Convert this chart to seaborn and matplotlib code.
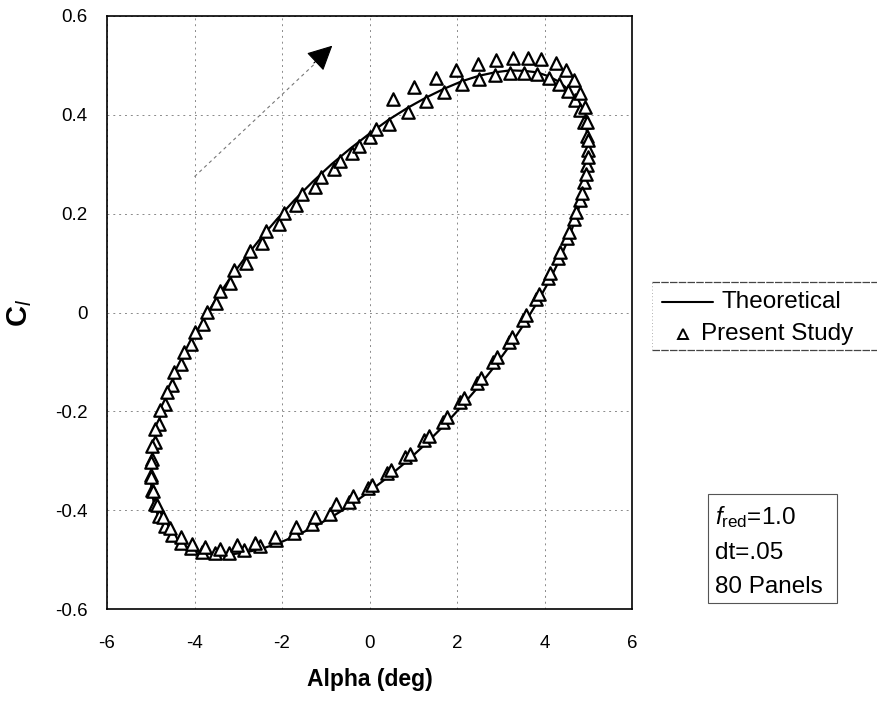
import matplotlib
matplotlib.use("Agg")
import matplotlib.pyplot as plt
from matplotlib.lines import Line2D
from matplotlib.patches import Rectangle
import pandas as pd
import seaborn as sns

# Theodorsen lift loop, alpha = 5 deg pitch amplitude, one full cycle
theory_alpha = [0, 0.436, 0.868, 1.294, 1.710, 2.113, 2.5, 2.868, 3.214, 3.536, 3.830, 4.096,
                4.330, 4.532, 4.698, 4.830, 4.924, 4.981, 5.0,
                4.981, 4.924, 4.830, 4.698, 4.532, 4.330, 4.096, 3.830, 3.536, 3.214, 2.868,
                2.5, 2.113, 1.710, 1.294, 0.868, 0.436, 0,
                -0.436, -0.868, -1.294, -1.710, -2.113, -2.5, -2.868, -3.214, -3.536, -3.830,
                -4.096, -4.330, -4.532, -4.698, -4.830, -4.924, -4.981, -5.0,
                -4.981, -4.924, -4.830, -4.698, -4.532, -4.330, -4.096, -3.830, -3.536, -3.214,
                -2.868, -2.5, -2.113, -1.710, -1.294, -0.868, -0.436, 0]
theory_cl = [0.362, 0.390, 0.414, 0.435, 0.453, 0.468, 0.479, 0.486, 0.490, 0.489, 0.486, 0.478,
             0.467, 0.452, 0.434, 0.412, 0.388, 0.360, 0.330,
             0.297, 0.262, 0.225, 0.186, 0.146, 0.104, 0.062, 0.020, -0.023, -0.066, -0.108,
             -0.149, -0.189, -0.228, -0.265, -0.300, -0.332, -0.362,
             -0.390, -0.414, -0.435, -0.453, -0.468, -0.479, -0.486, -0.490, -0.489, -0.486,
             -0.478, -0.467, -0.452, -0.434, -0.412, -0.388, -0.360, -0.330,
             -0.297, -0.262, -0.225, -0.186, -0.146, -0.104, -0.062, -0.020, 0.023, 0.066,
             0.108, 0.149, 0.189, 0.228, 0.265, 0.300, 0.332, 0.362]

# Panel-method results, converged cycle
study_alpha_a = [0.00, 0.44, 0.87, 1.29, 1.71, 2.11, 2.50, 2.87, 3.21, 3.54, 3.83, 4.10,
                 4.33, 4.53, 4.69, 4.82, 4.91, 4.97, 4.99, 4.97, 4.91, 4.82, 4.68, 4.51,
                 4.31, 4.07, 3.80, 3.50, 3.18, 2.83, 2.46, 2.07, 1.67, 1.25, 0.82, 0.39,
                 -0.04, -0.47, -0.90, -1.32, -1.73, -2.13, -2.51, -2.88, -3.22, -3.54, -3.83, -4.09,
                 -4.32, -4.52, -4.68, -4.81, -4.91, -4.97, -4.99, -4.97, -4.91, -4.82, -4.68, -4.51,
                 -4.31, -4.07, -3.80, -3.50, -3.18, -2.83, -2.46, -2.07, -1.67, -1.25, -0.82, -0.39]
study_cl_a = [0.355, 0.382, 0.405, 0.427, 0.446, 0.462, 0.473, 0.481, 0.485, 0.485, 0.482, 0.474,
              0.463, 0.449, 0.431, 0.409, 0.385, 0.358, 0.329, 0.298, 0.264, 0.228, 0.190, 0.151,
              0.110, 0.069, 0.027, -0.016, -0.059, -0.101, -0.142, -0.182, -0.221, -0.258, -0.293, -0.325,
              -0.355, -0.383, -0.407, -0.428, -0.446, -0.461, -0.473, -0.481, -0.486, -0.487, -0.484, -0.477,
              -0.466, -0.451, -0.433, -0.411, -0.387, -0.359, -0.329, -0.297, -0.262, -0.225, -0.186, -0.146,
              -0.105, -0.064, -0.023, 0.019, 0.060, 0.101, 0.141, 0.180, 0.218, 0.254, 0.290, 0.323]

# Panel-method results, starting cycle
study_alpha_b = [0.53, 1.01, 1.51, 1.97, 2.47, 2.88, 3.27, 3.62, 3.92, 4.26, 4.50, 4.68,
                 4.82, 4.92, 4.98, 5.00, 4.99, 4.94, 4.85, 4.72, 4.56, 4.36, 4.13, 3.87,
                 3.58, 3.26, 2.92, 2.55, 2.17, 1.77, 1.35, 0.92, 0.49, 0.05, -0.38, -0.76,
                 -1.24, -1.69, -2.15, -2.61, -3.02, -3.41, -3.76, -4.05, -4.32, -4.55, -4.72, -4.85,
                 -4.94, -4.99, -5.00, -4.97, -4.90, -4.79, -4.64, -4.46, -4.25, -4.00, -3.72, -3.42,
                 -3.09, -2.74, -2.36, -1.96, -1.54, -1.11, -0.67, -0.23, 0.15]
study_cl_b = [0.432, 0.457, 0.474, 0.490, 0.503, 0.511, 0.515, 0.515, 0.512, 0.505, 0.490, 0.470,
              0.445, 0.415, 0.385, 0.350, 0.315, 0.280, 0.242, 0.203, 0.163, 0.122, 0.080, 0.037,
              -0.006, -0.049, -0.091, -0.133, -0.173, -0.212, -0.250, -0.286, -0.319, -0.350, -0.372, -0.388,
              -0.414, -0.435, -0.455, -0.467, -0.471, -0.479, -0.475, -0.469, -0.455, -0.437, -0.414, -0.390,
              -0.362, -0.333, -0.302, -0.270, -0.235, -0.198, -0.160, -0.120, -0.080, -0.040, 0.002, 0.044,
              0.085, 0.125, 0.164, 0.202, 0.239, 0.274, 0.306, 0.336, 0.372]

x_ticks = [-6, -4, -2, 0, 2, 4, 6]
x_tick_labels = ["-6", "-4", "-2", "0", "2", "4", "6"]
y_ticks = [-0.6, -0.4, -0.2, 0, 0.2, 0.4, 0.6]
y_tick_labels = ["-0.6", "-0.4", "-0.2", "0", "0.2", "0.4", "0.6"]

sns.set_theme(style="white")
plt.rcParams["font.family"] = ["Liberation Sans", "DejaVu Sans"]
plt.rcParams["mathtext.fontset"] = "custom"
plt.rcParams["mathtext.rm"] = "Liberation Sans"
plt.rcParams["mathtext.it"] = "Liberation Sans:italic"
plt.rcParams["mathtext.bf"] = "Liberation Sans:bold"
plt.rcParams["axes.unicode_minus"] = False
plt.rcParams["text.color"] = "black"
plt.rcParams["axes.labelcolor"] = "black"

theory = pd.DataFrame({"alpha": theory_alpha, "cl": theory_cl})
study = pd.DataFrame({"alpha": study_alpha_a + study_alpha_b,
                      "cl": study_cl_a + study_cl_b})

fig = plt.figure(figsize=(8.77, 7.01), dpi=100)
ax = fig.add_axes([107 / 877, 1 - 609 / 701, 525 / 877, 593 / 701])

sns.lineplot(data=theory, x="alpha", y="cl", sort=False, estimator=None,
             color="black", linewidth=1.6, ax=ax, zorder=3)
sns.scatterplot(data=study, x="alpha", y="cl", marker="^", s=80,
                color="white", edgecolor="black", linewidth=1.6, ax=ax, zorder=4)

ax.set_xlim(-6, 6)
ax.set_ylim(-0.6, 0.6)
ax.set_xticks(x_ticks)
ax.set_xticklabels(x_tick_labels)
ax.set_yticks(y_ticks)
ax.set_yticklabels(y_tick_labels)
ax.tick_params(axis="both", length=0, labelsize=13.5, colors="black")
ax.tick_params(axis="x", pad=19)
ax.tick_params(axis="y", pad=14)
ax.grid(True, color="#8a8a8a", linestyle=(0, (2, 4)), linewidth=0.7)
for sp in ax.spines.values():
    sp.set_color("black")
    sp.set_linewidth(1.2)

ax.set_xlabel("Alpha (deg)", fontsize=16.5, fontweight="bold", labelpad=11)
ax.set_ylabel(r"$\mathbf{C}_{\mathit{l}}$", fontsize=21, labelpad=0)
ax.yaxis.set_label_coords(-0.14, 0.5)

# direction-of-travel arrow
ax.plot([-4.0, -1.05], [0.275, 0.52], color="#777777", linestyle=(0, (3, 3)), linewidth=0.8)
ax.annotate("", xy=(-0.85, 0.54), xytext=(-1.27, 0.505),
            arrowprops=dict(arrowstyle="-|>,head_length=1.3,head_width=0.65",
                            color="black", linewidth=0.8, shrinkA=0, shrinkB=0))

# legend panel to the right of the axes
W, H = 877, 701
leg_top, leg_bot = 1 - 282 / H, 1 - 350 / H
fig.add_artist(Line2D([652 / W, 1.0], [leg_top, leg_top], transform=fig.transFigure,
                      color="#444444", linewidth=0.9, linestyle=(0, (6, 1))))
fig.add_artist(Line2D([652 / W, 1.0], [leg_bot, leg_bot], transform=fig.transFigure,
                      color="#444444", linewidth=0.9, linestyle=(0, (6, 1))))
fig.add_artist(Line2D([652 / W, 652 / W], [leg_bot, leg_top], transform=fig.transFigure,
                      color="#999999", linewidth=0.6, linestyle=(0, (1, 3))))
fig.add_artist(Line2D([662 / W, 713 / W], [1 - 302 / H, 1 - 302 / H], transform=fig.transFigure,
                      color="black", linewidth=1.5))
fig.add_artist(Line2D([683 / W], [1 - 334 / H], transform=fig.transFigure, linestyle="none",
                      marker="^", markersize=7, markerfacecolor="white",
                      markeredgecolor="black", markeredgewidth=1.4))
fig.text(721 / W, 1 - 302 / H, "Theoretical", fontsize=17.5, va="center")
fig.text(701 / W, 1 - 334 / H, "Present Study", fontsize=17.5, va="center")

box = Rectangle((708 / W, 1 - 603 / H), 129 / W, 109 / H,
                transform=fig.transFigure, facecolor="white", edgecolor="#555555",
                linewidth=0.8)
fig.patches.append(box)
fig.text(715 / W, 1 - 517 / H, r"$\mathit{f}_{\mathrm{red}}$=1.0", fontsize=17.5, va="center")
fig.text(715 / W, 1 - 553 / H, "dt=.05", fontsize=17.5, va="center")
fig.text(715 / W, 1 - 587 / H, "80 Panels", fontsize=17.5, va="center")

fig.savefig("out.png", dpi=100)
